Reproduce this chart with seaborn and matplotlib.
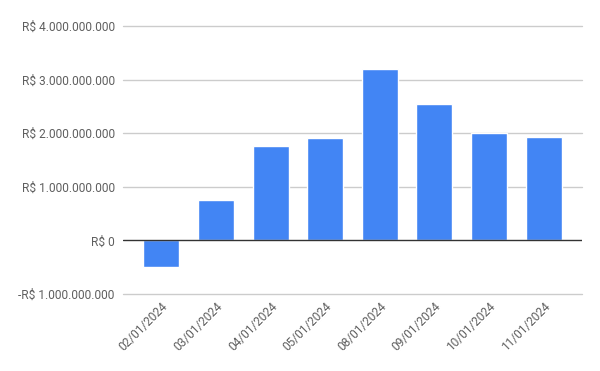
import matplotlib
matplotlib.use("Agg")
import matplotlib.pyplot as plt
import seaborn as sns
import pandas as pd
from matplotlib.ticker import FuncFormatter

categories = ["02/01/2024", "03/01/2024", "04/01/2024", "05/01/2024",
              "08/01/2024", "09/01/2024", "10/01/2024", "11/01/2024"]
values = [-0.503e9, 0.763e9, 1.77e9, 1.918e9, 3.20e9, 2.55e9, 2.0e9, 1.937e9]
y_ticks = [-1e9, 0, 1e9, 2e9, 3e9, 4e9]

sns.set_theme(style="white")
plt.rcParams['font.family'] = ['Roboto', 'DejaVu Sans']

df = pd.DataFrame({"date": categories, "value": values})

fig = plt.figure(figsize=(6, 3.71), dpi=100)
ax = fig.add_axes([0.205, 0.2075, 0.765, 0.7225])

sns.barplot(data=df, x="date", y="value", color="#4285F4", saturation=1,
            width=0.66, ax=ax, zorder=3)

ax.set_xlim(-0.7, len(categories) - 0.3)
ax.set_ylim(-1e9, 4e9)
ax.set_yticks(y_ticks)

def fmt(v, pos):
    n = int(round(abs(v)))
    s = f"{n:,}".replace(",", ".")
    return ("-R$ " if v < 0 else "R$ ") + s

ax.yaxis.set_major_formatter(FuncFormatter(fmt))
for t in y_ticks:
    if t != 0:
        ax.axhline(t, color="#cccccc", linewidth=1, zorder=0, clip_on=False)
ax.axhline(0, color="#333333", linewidth=1, zorder=4)
for s in ax.spines.values():
    s.set_visible(False)
ax.set_xlabel("")
ax.set_ylabel("")
ax.tick_params(axis="both", length=0, labelsize=8.6, labelcolor="#5f5f5f")
ax.tick_params(axis="y", pad=6)
ax.tick_params(axis="x", pad=4)
for lbl in ax.get_xticklabels():
    lbl.set_rotation(45)
    lbl.set_ha("right")
    lbl.set_rotation_mode("anchor")

fig.savefig("out.png", dpi=100, facecolor="white")
